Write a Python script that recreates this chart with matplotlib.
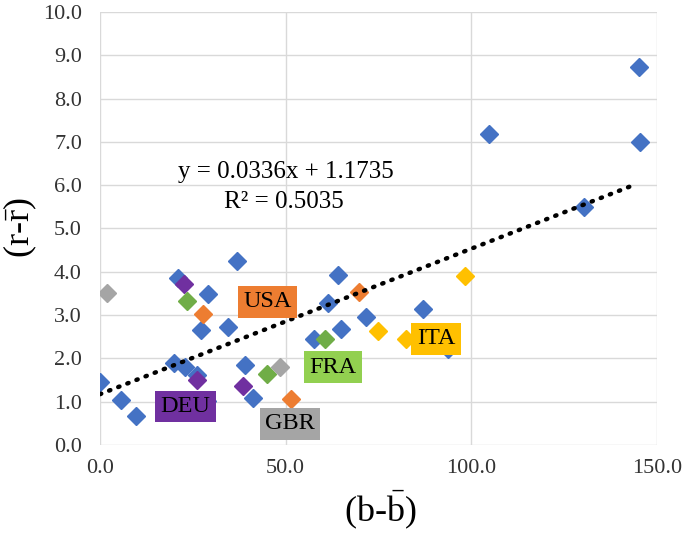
import matplotlib
matplotlib.use("Agg")
import matplotlib.pyplot as plt
import numpy as np

plt.rcParams['font.family'] = ['Liberation Serif', 'DejaVu Serif']
plt.rcParams['mathtext.fontset'] = 'custom'
plt.rcParams['mathtext.rm'] = 'Liberation Serif'
plt.rcParams['mathtext.it'] = 'Liberation Serif:italic'

# data points grouped by colour
blue_x = [0.0, 5.7, 9.6, 36.9, 20.9, 29.1, 27.3, 34.5, 20.0, 22.8, 26.1, 39.0, 41.3,
          28.8, 57.7, 64.1, 61.5, 64.9, 71.6, 86.9, 93.6, 104.7, 145.2, 145.5, 130.4]
blue_y = [1.46, 1.05, 0.68, 4.25, 3.86, 3.49, 2.66, 2.73, 1.90, 1.81, 1.62, 1.85, 1.08,
          1.01, 2.45, 3.93, 3.27, 2.68, 2.96, 3.13, 2.22, 7.18, 8.72, 6.99, 5.49]
purple_x = [22.6, 26.1, 38.5]
purple_y = [3.71, 1.50, 1.36]
green_x = [23.5, 45.0, 60.6]
green_y = [3.33, 1.63, 2.44]
orange_x = [27.8, 51.4, 69.8]
orange_y = [3.03, 1.06, 3.53]
gray_x = [2.0, 48.6]
gray_y = [3.50, 1.79]
yellow_x = [74.8, 82.4, 98.2]
yellow_y = [2.63, 2.44, 3.91]

slope = 0.0336
intercept = 1.1735
r2 = 0.5035

# country labels: (name, x, y, box colour)
labels = [('USA', 45.1, 3.31, '#ED7D31'),
          ('FRA', 62.7, 1.80, '#92D050'),
          ('ITA', 90.5, 2.45, '#FFC000'),
          ('DEU', 23.0, 0.89, '#7030A0'),
          ('GBR', 51.2, 0.485, '#A5A5A5')]

fig = plt.figure(figsize=(6.85, 5.34), dpi=100)
ax = fig.add_axes([0.146, 0.1667, 0.813, 0.8108])

ax.set_xlim(0, 150)
ax.set_ylim(0, 10)
ax.set_xticks([0, 50, 100, 150])
ax.set_yticks(np.arange(0, 10.5, 1.0))
ax.xaxis.set_major_formatter(matplotlib.ticker.FormatStrFormatter('%.1f'))
ax.yaxis.set_major_formatter(matplotlib.ticker.FormatStrFormatter('%.1f'))
ax.grid(True, color='#D9D9D9', linewidth=1.0)
ax.set_axisbelow(True)
for s in ax.spines.values():
    s.set_visible(False)
ax.tick_params(length=0, labelsize=16, colors='#333333')
ax.tick_params(axis='x', pad=10)
ax.tick_params(axis='y', pad=13)

ms = 9
ax.plot(blue_x, blue_y, 'D', color='#4472C4', markersize=ms, zorder=3)
ax.plot(purple_x, purple_y, 'D', color='#7030A0', markersize=ms, zorder=3)
ax.plot(green_x, green_y, 'D', color='#70AD47', markersize=ms, zorder=3)
ax.plot(orange_x, orange_y, 'D', color='#ED7D31', markersize=ms, zorder=3)
ax.plot(gray_x, gray_y, 'D', color='#A5A5A5', markersize=ms, zorder=3)
ax.plot(yellow_x, yellow_y, 'D', color='#FFC000', markersize=ms, zorder=3)

# trendline
tx = np.array([0, 143.5])
ax.plot(tx, slope * tx + intercept, color='black', linewidth=3.2,
        linestyle=(0, (0.3, 1.9)), dash_capstyle='round', zorder=4)

ax.text(50.0, 6.30, 'y = %.4fx + %.4f' % (slope, intercept), fontsize=18,
        ha='center', va='center', zorder=5)
ax.text(49.5, 5.62, 'R² = %.4f' % r2, fontsize=18, ha='center', va='center', zorder=5)

for name, lx, ly, c in labels:
    ax.text(lx, ly, name, fontsize=17.5, ha='center', va='center', zorder=6,
            bbox=dict(boxstyle='square,pad=0.22', facecolor=c, edgecolor='none'))

fig.text(0.555, 0.045, '(b-$\\bar{\\mathrm{b}}$)', fontsize=26, ha='center', va='center')
fig.text(0.03, 0.573, '(r-$\\bar{\\mathrm{r}}$)', fontsize=26, ha='center', va='center',
         rotation=90)

fig.savefig('out.png', dpi=100)
